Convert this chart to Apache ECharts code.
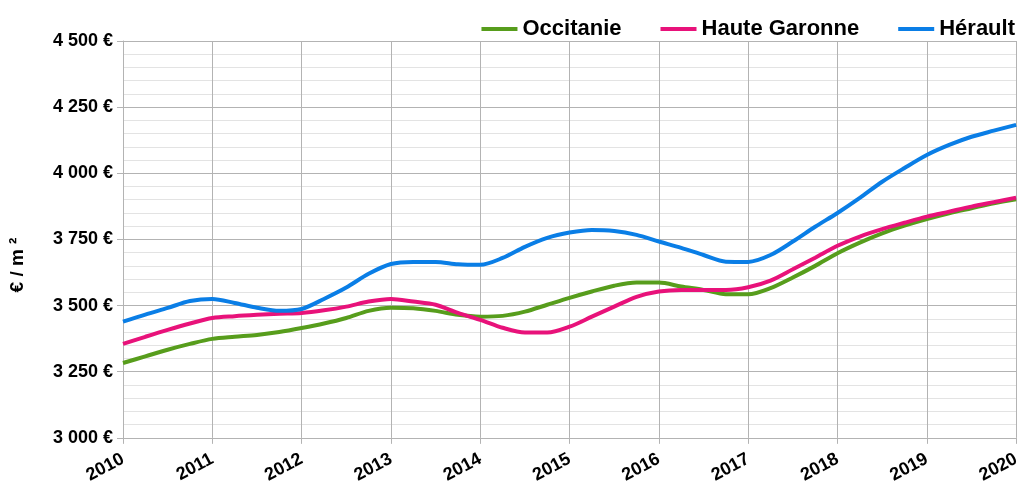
<!DOCTYPE html>
<html><head><meta charset="utf-8">
<script src="https://cdn.jsdelivr.net/npm/echarts@6/dist/echarts.min.js"></script>
<style>html,body{margin:0;padding:0;background:#fff}#c{width:1023px;height:486px}</style>
</head><body><div id="c"></div>
<script>
const years = [2010, 2010.25, 2010.5, 2010.75, 2011, 2011.25, 2011.5, 2011.75, 2012, 2012.25, 2012.5, 2012.75,
  2013, 2013.25, 2013.5, 2013.75, 2014, 2014.25, 2014.5, 2014.75, 2015, 2015.25, 2015.5, 2015.75,
  2016, 2016.25, 2016.5, 2016.75, 2017, 2017.25, 2017.5, 2017.75, 2018, 2018.25, 2018.5, 2018.75,
  2019, 2019.25, 2019.5, 2019.75, 2020];
const occitanie = [3283, 3308, 3333, 3355, 3374, 3382, 3389, 3400, 3415, 3432, 3453, 3480,
  3492, 3490, 3480, 3465, 3458, 3461, 3477, 3503, 3529, 3553, 3575, 3587,
  3587, 3572, 3559, 3543, 3543, 3566, 3606, 3650, 3698, 3738, 3773, 3802,
  3827, 3849, 3868, 3887, 3902];
const hauteGaronne = [3355, 3382, 3408, 3432, 3453, 3460, 3465, 3469, 3472, 3482, 3496, 3515,
  3525, 3515, 3503, 3472, 3446, 3416, 3398, 3398, 3420, 3458, 3496, 3533,
  3553, 3559, 3559, 3559, 3569, 3594, 3637, 3681, 3726, 3761, 3789, 3813,
  3836, 3855, 3874, 3891, 3908];
const herault = [3439, 3466, 3491, 3517, 3525, 3510, 3492, 3480, 3487, 3525, 3568, 3620,
  3657, 3665, 3665, 3656, 3654, 3680, 3722, 3756, 3776, 3786, 3782, 3767,
  3742, 3718, 3691, 3666, 3665, 3691, 3742, 3798, 3850, 3907, 3968, 4020,
  4069, 4107, 4138, 4161, 4183];
const seriesNames = ['Occitanie', 'Haute Garonne', 'Hérault'];
const colors = ['#579d1c', '#e8127a', '#0a7ee6'];
const yTicks = [3000, 4500, 250];
const xTicks = [2010, 2020, 1];
const yTitle = '€ / m ²';

function pairs(vals){ return years.map((y,i)=>[y, vals[i]]); }
const fmt = v => String(v).replace(/\B(?=(\d{3})+(?!\d))/g, ' ') + ' €';
const chart = echarts.init(document.getElementById('c'));
const font = 'Liberation Sans, Arial, sans-serif';
chart.setOption({
  animation: false,
  color: colors,
  legend: {
    right: 3, top: 13, itemWidth: 36, itemHeight: 4, itemGap: 39,
    icon: 'rect',
    textStyle: {fontFamily: font, fontWeight: 'bold', fontSize: 22, color: '#000'},
    data: seriesNames
  },
  grid: {left: 123, right: 1, top: 41, bottom: 48},
  graphic: [{
    type: 'text', x: 18, y: 265, rotation: Math.PI / 2,
    style: {text: yTitle, font: 'bold 19px ' + font, fill: '#000', textAlign: 'center', textVerticalAlign: 'middle'}
  }],
  xAxis: {
    type: 'value', min: xTicks[0], max: xTicks[1], interval: xTicks[2],
    axisLine: {show: true, lineStyle: {color: '#b3b3b3'}},
    axisTick: {show: true, length: 6, lineStyle: {color: '#b3b3b3'}},
    splitLine: {show: true, lineStyle: {color: '#b3b3b3', width: 1}},
    axisLabel: {rotate: 28, fontFamily: font, fontWeight: 'bold', fontSize: 18, color: '#000', margin: 20, formatter: v => String(v)}
  },
  yAxis: {
    type: 'value', min: yTicks[0], max: yTicks[1], interval: yTicks[2],
    axisLine: {show: true, lineStyle: {color: '#b3b3b3'}},
    axisTick: {show: true, length: 6, lineStyle: {color: '#b3b3b3'}},
    splitLine: {show: true, lineStyle: {color: '#b3b3b3', width: 1}},
    minorTick: {show: false, splitNumber: 5},
    minorSplitLine: {show: true, lineStyle: {color: '#e3e3e3', width: 1}},
    axisLabel: {fontFamily: font, fontWeight: 'bold', fontSize: 18, color: '#000', margin: 10, formatter: fmt}
  },
  series: [occitanie, hauteGaronne, herault].map((d, i) => ({
    name: seriesNames[i], type: 'line', data: pairs(d), smooth: 0.3,
    showSymbol: false, lineStyle: {width: 4, color: colors[i]}, itemStyle: {color: colors[i]}
  }))
});
</script></body></html>
